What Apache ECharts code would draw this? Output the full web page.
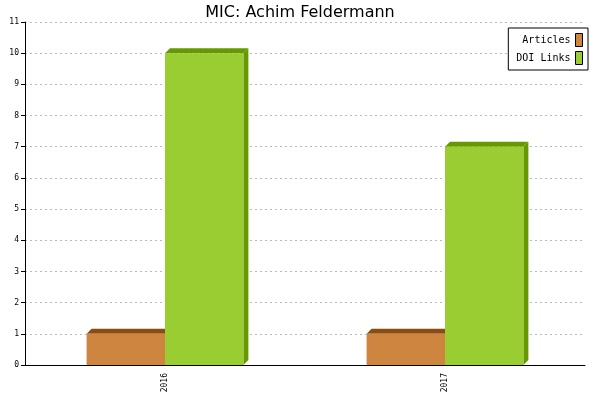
<!DOCTYPE html>
<html><head><meta charset="utf-8">
<script src="https://cdn.jsdelivr.net/npm/echarts@6/dist/echarts.min.js"></script>
<style>html,body{margin:0;padding:0;background:#fff}#c{width:600px;height:400px}</style>
</head><body><div id="c"></div>
<script>
const categories = ['2016', '2017'];
const articles = [1, 1];
const doiLinks = [10, 7];
const yTicks = [0, 11, 1];

const chart = echarts.init(document.getElementById('c'));
function make3d(front, dark, side) {
  return function (params, api) {
    const cat = api.value(0), val = api.value(1);
    const base = api.coord([cat, 0]);
    const top = api.coord([cat, val]);
    const bw = api.size([1, 0])[0];
    const w = bw * 0.28;
    const x0 = side < 0 ? base[0] - w : base[0];
    const x1 = x0 + w, d = 5;
    return { type: 'group', children: [
      { type: 'polygon', shape: { points: [[x0, top[1]], [x0 + d, top[1] - d], [x1 + d, top[1] - d], [x1, top[1]]] }, style: { fill: dark } },
      { type: 'polygon', shape: { points: [[x1, top[1]], [x1 + d, top[1] - d], [x1 + d, base[1] - d], [x1, base[1]]] }, style: { fill: dark } },
      { type: 'rect', shape: { x: x0, y: top[1], width: w, height: base[1] - top[1] }, style: { fill: front } }
    ]};
  };
}
chart.setOption({
  animation: false,
  title: { text: 'MIC: Achim Feldermann', left: 'center', top: 0, textStyle: { fontFamily: 'DejaVu Sans', fontSize: 16, fontWeight: 'normal', color: '#000' } },
  grid: { left: 25, right: 15, top: 22, bottom: 35 },
  legend: { right: 12, top: 28, orient: 'vertical', align: 'right', backgroundColor: '#fff', borderColor: '#000', borderWidth: 1, borderRadius: 0, padding: [5, 5, 5, 8], itemGap: 4, itemWidth: 7, itemHeight: 13, textStyle: { fontFamily: 'DejaVu Sans Mono', fontSize: 10, color: '#000' },
    data: [{ name: 'Articles', icon: 'rect', itemStyle: { color: '#CD853F', borderColor: '#000', borderWidth: 1 } }, { name: 'DOI Links', icon: 'rect', itemStyle: { color: '#9ACD32', borderColor: '#000', borderWidth: 1 } }] },
  xAxis: { type: 'category', data: categories, boundaryGap: true, axisLine: { lineStyle: { color: '#000' } }, axisTick: { length: 5, lineStyle: { color: '#000' } }, axisLabel: { rotate: 90, fontSize: 8, fontFamily: 'DejaVu Sans Mono', color: '#000' } },
  yAxis: { type: 'value', min: yTicks[0], max: yTicks[1], interval: yTicks[2], axisLine: { show: true, lineStyle: { color: '#000' } }, axisTick: { show: true, length: 4, lineStyle: { color: '#000' } }, axisLabel: { fontSize: 8, fontFamily: 'DejaVu Sans Mono', color: '#000', margin: 6 }, splitLine: { lineStyle: { color: '#bbb', type: [2, 3] } } },
  series: [
    { name: 'Articles', type: 'custom', itemStyle: { color: '#CD853F' }, renderItem: make3d('#CD853F', '#8B4C10', -1), data: articles.map((v, i) => [i, v]) },
    { name: 'DOI Links', type: 'custom', itemStyle: { color: '#9ACD32' }, renderItem: make3d('#9ACD32', '#669900', 1), data: doiLinks.map((v, i) => [i, v]) }
  ]
});
</script></body></html>
